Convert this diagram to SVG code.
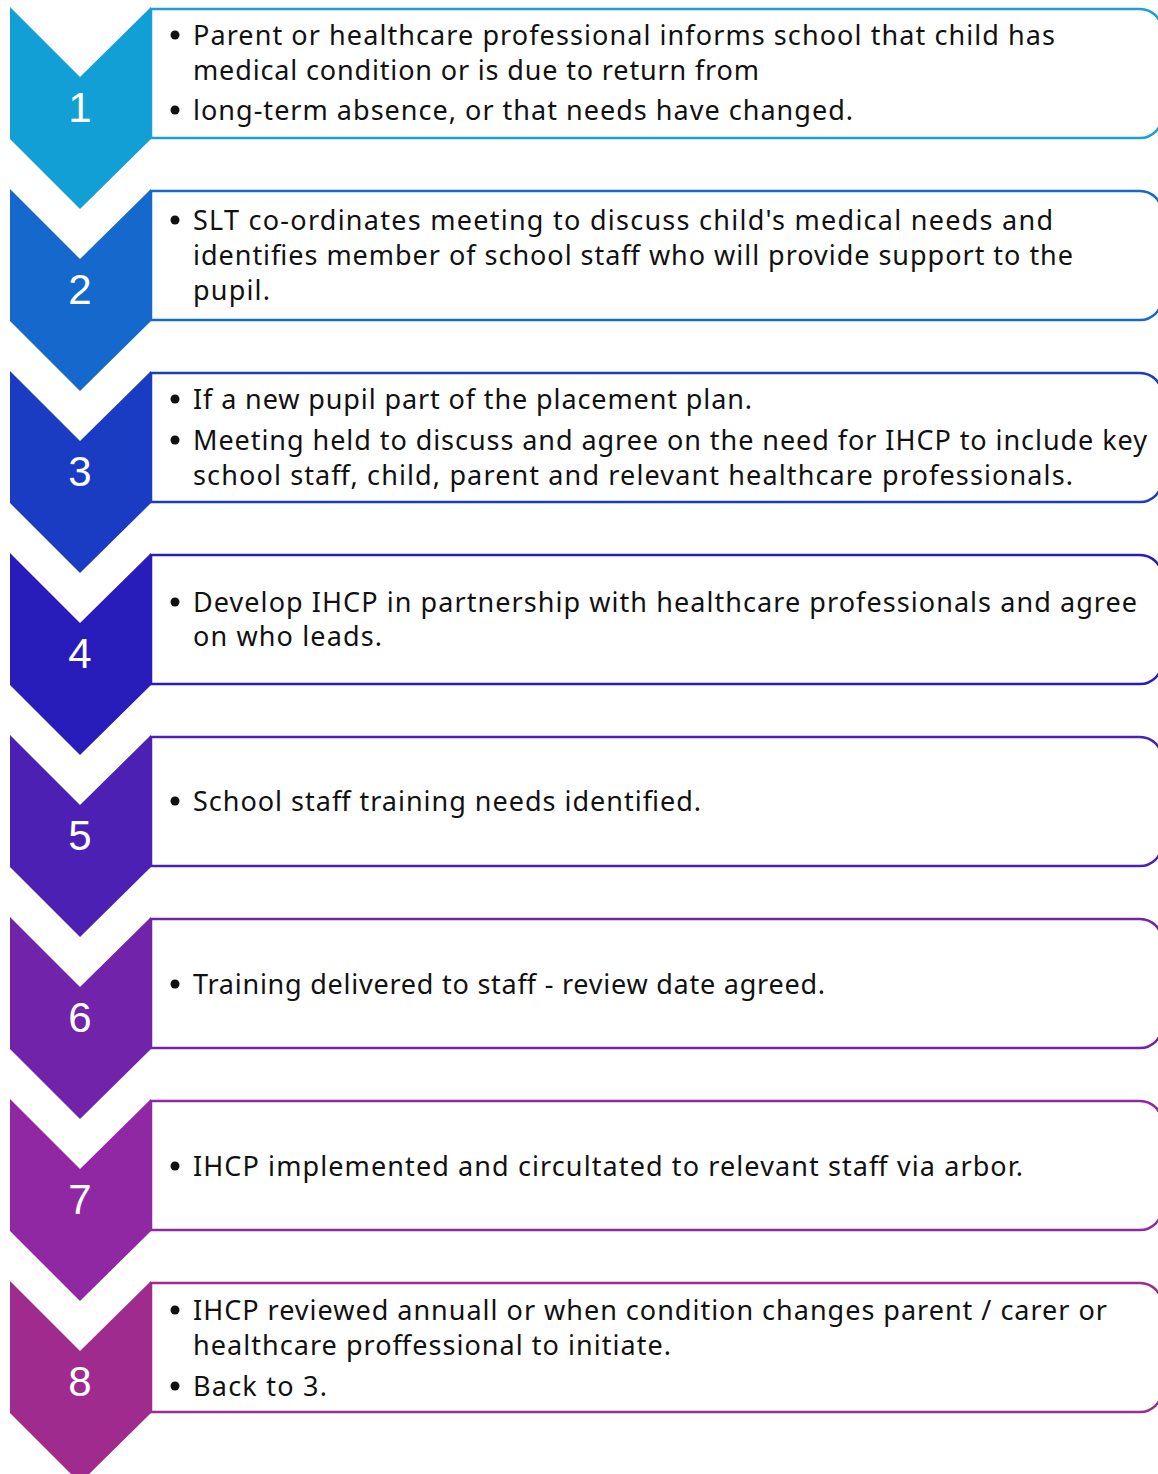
<svg xmlns="http://www.w3.org/2000/svg" width="1158" height="1474" viewBox="0 0 1158 1474">
<style>
.t{font-family:"Noto Sans","Open Sans",sans-serif;font-size:27px;fill:#111}
.n{font-family:"Liberation Sans",Arial,sans-serif;font-size:42px;fill:#fff;text-anchor:middle}
.b{fill:#111}
.box{fill:#fff;stroke-width:2.5}
</style>
<defs>
<path id="chev" d="M10,0 L80,70 L151,0 L151,132 L80,202 L10,132 Z"/>
<path id="card" d="M151,0 H1140 A22,22 0 0 1 1162,22 V107 A22,22 0 0 1 1140,129 H151 Z"/>
</defs>
<rect width="1158" height="1474" fill="#fff"/>
<g id="connectors"></g>

<g id="step1">
<use href="#card" class="box" stroke="#1AA0D8" transform="translate(0,9)"/>
<use href="#chev" fill="#129FD5" transform="translate(0,7)"/>
<text class="n" x="80" y="122">1</text>
<circle class="b" cx="175" cy="35" r="4.5"/>
<text class="t" x="193" y="45" textLength="862">Parent or healthcare professional informs school that child has</text>
<text class="t" x="193" y="80" textLength="566">medical condition or is due to return from</text>
<circle class="b" cx="175" cy="110" r="4.5"/>
<text class="t" x="193" y="120" textLength="660">long-term absence, or that needs have changed.</text>
</g>

<g id="step2">
<use href="#card" class="box" stroke="#1568CC" transform="translate(0,191)"/>
<use href="#chev" fill="#1569CC" transform="translate(0,189)"/>
<text class="n" x="80" y="304">2</text>
<circle class="b" cx="175" cy="220" r="4.5"/>
<text class="t" x="193" y="230" textLength="860">SLT co-ordinates meeting to discuss child's medical needs and</text>
<text class="t" x="193" y="265" textLength="880">identifies member of school staff who will provide support to the</text>
<text class="t" x="193" y="300" textLength="77">pupil.</text>
</g>

<g id="step3">
<use href="#card" class="box" stroke="#1A3CC2" transform="translate(0,373)"/>
<use href="#chev" fill="#1A3CC2" transform="translate(0,371)"/>
<text class="n" x="80" y="486">3</text>
<circle class="b" cx="175" cy="399" r="4.5"/>
<text class="t" x="193" y="409" textLength="559">If a new pupil part of the placement plan.</text>
<circle class="b" cx="175" cy="440" r="4.5"/>
<text class="t" x="193" y="450" textLength="954">Meeting held to discuss and agree on the need for IHCP to include key</text>
<text class="t" x="193" y="485" textLength="880">school staff, child, parent and relevant healthcare professionals.</text>
</g>

<g id="step4">
<use href="#card" class="box" stroke="#281CBA" transform="translate(0,555)"/>
<use href="#chev" fill="#281CBA" transform="translate(0,553)"/>
<text class="n" x="80" y="668">4</text>
<circle class="b" cx="175" cy="602" r="4.5"/>
<text class="t" x="193" y="612" textLength="944">Develop IHCP in partnership with healthcare professionals and agree</text>
<text class="t" x="193" y="646" textLength="189">on who leads.</text>
</g>

<g id="step5">
<use href="#card" class="box" stroke="#4D20B4" transform="translate(0,737)"/>
<use href="#chev" fill="#4D20B4" transform="translate(0,735)"/>
<text class="n" x="80" y="850">5</text>
<circle class="b" cx="175" cy="801" r="4.5"/>
<text class="t" x="193" y="811" textLength="508">School staff training needs identified.</text>
</g>

<g id="step6">
<use href="#card" class="box" stroke="#7123A9" transform="translate(0,919)"/>
<use href="#chev" fill="#7123A9" transform="translate(0,917)"/>
<text class="n" x="80" y="1032">6</text>
<circle class="b" cx="175" cy="984" r="4.5"/>
<text class="t" x="193" y="994" textLength="632">Training delivered to staff - review date agreed.</text>
</g>

<g id="step7">
<use href="#card" class="box" stroke="#9027A3" transform="translate(0,1101)"/>
<use href="#chev" fill="#9027A3" transform="translate(0,1099)"/>
<text class="n" x="80" y="1214">7</text>
<circle class="b" cx="175" cy="1166" r="4.5"/>
<text class="t" x="193" y="1176" textLength="830">IHCP implemented and circultated to relevant staff via arbor.</text>
</g>

<g id="step8">
<use href="#card" class="box" stroke="#A02B8E" transform="translate(0,1283)"/>
<use href="#chev" fill="#A02B8E" transform="translate(0,1281)"/>
<text class="n" x="80" y="1396">8</text>
<circle class="b" cx="175" cy="1310" r="4.5"/>
<text class="t" x="193" y="1320" textLength="914">IHCP reviewed annuall or when condition changes parent / carer or</text>
<text class="t" x="193" y="1355" textLength="478">healthcare proffessional to initiate.</text>
<circle class="b" cx="175" cy="1386" r="4.5"/>
<text class="t" x="193" y="1396" textLength="134">Back to 3.</text>
</g>
</svg>
